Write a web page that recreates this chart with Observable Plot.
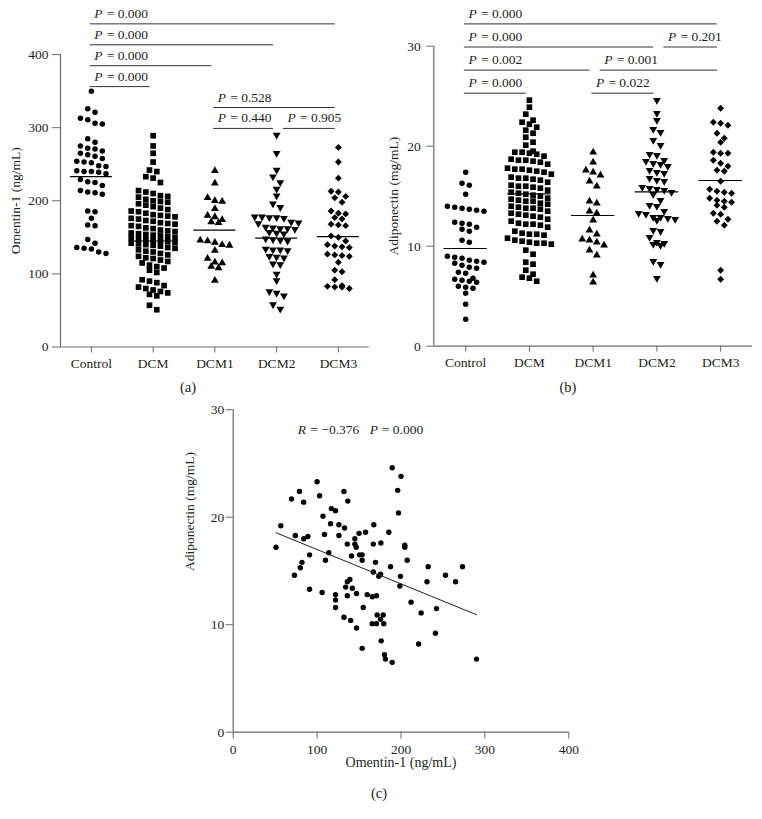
<!DOCTYPE html>
<html><head><meta charset="utf-8">
<script src="https://cdn.jsdelivr.net/npm/d3@7"></script>
<script src="https://cdn.jsdelivr.net/npm/@observablehq/plot@0.6"></script>
<style>
body{margin:0;background:#fff;}
#wrap{position:relative;width:762px;height:819px;font-family:"Liberation Serif","Times New Roman",serif;color:#231f20;background:#fff;}
.panel{position:absolute;}
.cap{position:absolute;font-size:14.5px;text-align:center;width:40px;line-height:18px;}
</style></head><body><div id="wrap"></div>
<script>
// ---------- data ----------
const groups = ["Control", "DCM", "DCM1", "DCM2", "DCM3"];

// Panel (a): Omentin-1 (ng/mL)
const omentinControl = [350, 326, 321, 313, 311, 306, 305, 285, 280, 275, 272, 271, 268, 265, 263, 261, 258, 254, 253, 252, 248, 247, 241, 240, 240, 239, 237, 229, 226, 225, 221, 214, 212, 211, 209, 186, 185, 176, 167, 166, 147, 142, 136, 135, 134, 130, 128];
const omentinDCM = [289, 275, 265, 253, 242, 240, 233, 231, 225, 214, 212, 210, 207, 206, 205, 202, 200, 199, 198, 196, 194, 192, 190, 188, 186, 185, 183, 181, 180, 179, 178, 176, 175, 173, 172, 170, 169, 168, 166, 165, 163, 162, 160, 159, 158, 156, 155, 154, 153, 152, 151, 150, 149, 148, 147, 146, 145, 144, 143, 142, 141, 140, 139, 138, 136, 135, 133, 131, 130, 128, 126, 124, 122, 121, 119, 117, 115, 112, 110, 108, 105, 102, 92, 90, 88, 84, 82, 80, 78, 76, 74, 72, 70, 57, 51];
const omentinDCM1 = [241, 224, 204, 200, 199, 189, 180, 178, 174, 171, 170, 146, 145, 143, 140, 139, 132, 121, 116, 115, 110, 108, 91];
const omentinDCM2 = [290, 265, 242, 233, 225, 216, 207, 196, 191, 178, 178, 177, 177, 176, 171, 170, 169, 164, 163, 162, 162, 161, 157, 156, 155, 148, 147, 146, 145, 134, 133, 133, 132, 124, 123, 122, 114, 113, 100, 91, 76, 74, 70, 58, 52];
const omentinDCM3 = [273, 253, 231, 213, 212, 206, 204, 198, 186, 183, 182, 177, 175, 168, 167, 166, 152, 150, 145, 140, 138, 137, 136, 127, 126, 125, 124, 116, 105, 103, 92, 84, 83, 82, 82, 80];
const omentinMeans = [233, 145, 160, 149, 151];
const omentinTicks = [0, 100, 200, 300, 400];
const omentinTests = [
  {from: 0, to: 4, level: 5, p: "0.000"},
  {from: 0, to: 3, level: 4, p: "0.000"},
  {from: 0, to: 2, level: 3, p: "0.000"},
  {from: 0, to: 1, level: 2, p: "0.000"},
  {from: 2, to: 4, level: 1, p: "0.528"},
  {from: 2, to: 3, level: 0, p: "0.440"},
  {from: 3, to: 4, level: 0, p: "0.905"}
];

// Panel (b): Adiponectin (mg/mL)
const adipoControl = [17.4, 16.3, 16.1, 15.2, 14.0, 13.9, 13.8, 13.7, 13.6, 13.5, 12.4, 12.3, 12.2, 11.9, 11.7, 11.5, 10.6, 10.4, 9.0, 8.9, 8.8, 8.6, 8.5, 8.4, 8.3, 8.1, 7.9, 7.8, 7.4, 7.3, 6.8, 6.7, 6.6, 6.5, 6.4, 6.0, 5.9, 5.8, 5.3, 4.2, 2.7];
const adipoDCM = [24.6, 23.9, 23.2, 22.6, 22.4, 22.2, 21.9, 21.6, 21.3, 20.9, 20.4, 20.1, 19.5, 19.4, 19.4, 19.3, 19.2, 19.0, 18.7, 18.6, 18.6, 18.5, 18.4, 18.2, 17.8, 17.7, 17.7, 17.6, 17.5, 17.4, 17.2, 16.9, 16.8, 16.8, 16.7, 16.6, 16.4, 16.1, 16.0, 16.0, 15.9, 15.8, 15.6, 15.4, 15.3, 15.2, 15.1, 15.0, 14.8, 14.7, 14.6, 14.5, 14.5, 14.3, 14.2, 14.0, 13.9, 13.8, 13.8, 13.7, 13.5, 13.3, 13.2, 13.1, 13.0, 12.9, 12.7, 12.5, 12.3, 12.2, 12.2, 12.1, 11.9, 11.5, 11.3, 11.2, 11.2, 11.1, 10.8, 10.6, 10.5, 10.4, 10.3, 10.3, 10.2, 9.6, 9.2, 8.4, 8.2, 7.6, 7.2, 6.9, 6.8, 6.5];
const adipoDCM1 = [19.4, 18.4, 17.6, 17.4, 17.1, 16.5, 16.0, 14.5, 14.3, 13.5, 13.3, 12.6, 11.6, 11.2, 10.7, 10.6, 10.4, 10.1, 9.6, 9.1, 7.1, 6.4];
const adipoDCM2 = [24.6, 23.3, 22.6, 21.7, 21.4, 20.6, 20.1, 19.2, 19.1, 18.6, 18.5, 18.3, 18.2, 18.0, 17.6, 17.4, 17.3, 16.8, 16.6, 16.5, 15.9, 15.8, 15.7, 15.6, 15.4, 15.2, 14.6, 14.1, 14.0, 13.5, 13.3, 13.2, 12.9, 12.9, 12.8, 12.7, 12.6, 11.6, 11.5, 10.9, 10.4, 10.3, 10.2, 10.1, 8.5, 8.2, 6.8];
const adipoDCM3 = [23.8, 22.4, 22.3, 22.1, 21.3, 20.8, 20.4, 19.4, 19.3, 19.3, 18.6, 18.3, 18.0, 17.6, 17.5, 16.5, 15.7, 15.5, 15.4, 15.3, 14.8, 14.6, 14.5, 14.4, 14.1, 13.9, 13.3, 13.2, 12.7, 12.5, 12.1, 7.6, 6.7];
const adipoMeans = [9.77, 15.24, 13.07, 15.44, 16.57];
const adipoTicks = [0, 10, 20, 30];
const adipoTests = [
  {from: 0, to: 4, level: 3, p: "0.000"},
  {from: 0, to: 3, level: 2, p: "0.000"},
  {from: 3, to: 4, level: 2, p: "0.201"},
  {from: 0, to: 2, level: 1, p: "0.002"},
  {from: 2, to: 4, level: 1, p: "0.001"},
  {from: 0, to: 1, level: 0, p: "0.000"},
  {from: 2, to: 3, level: 0, p: "0.022"}
];

// Panel (c): correlation (DCM patients)
const scatterOmentin = [100, 79, 69.5, 84, 103, 132, 136.6, 117, 122, 107, 56.7, 116, 126, 132.7, 74, 84, 89, 108.8, 126, 51, 136, 145, 150, 145, 146.6, 91, 114, 110, 141, 150.5, 82, 80, 73, 139, 136, 134, 142, 136, 147, 91, 106, 122, 122, 122, 132, 140, 147,
  189.5, 200, 196, 197, 167.6, 157.7, 185.5, 167, 176, 204.5, 204.5, 153.7, 153.7, 207.4, 169.6, 187.5, 232.4, 273.3, 167, 175.6, 173.5, 199.4, 253, 231, 265, 198.6, 159.7, 165.7, 170.8, 212, 155, 224, 242.3, 171.6, 178.8, 175.6, 179.5, 165.7, 170.8, 153.7, 176.4, 241, 221, 180.3, 181.5, 189.5, 290];
const scatterAdipo = [23.3, 22.4, 21.7, 21.4, 22.0, 22.4, 21.5, 20.8, 20.6, 20.1, 19.2, 19.4, 19.3, 19.0, 18.3, 18.0, 18.2, 18.4, 18.3, 17.2, 17.5, 18.0, 18.5, 17.5, 17.2, 16.5, 16.7, 16.0, 16.4, 16.5, 15.8, 15.3, 14.6, 14.2, 14.0, 13.5, 13.4, 12.7, 12.9, 13.3, 13.0, 12.8, 12.3, 11.6, 10.7, 10.4, 9.7,
  24.6, 23.8, 22.5, 20.4, 19.3, 18.6, 18.6, 17.5, 17.6, 17.4, 17.2, 16.5, 16.0, 16.0, 15.8, 15.4, 15.4, 15.4, 14.9, 14.7, 14.5, 14.5, 14.6, 14.0, 14.0, 13.6, 12.8, 12.6, 12.7, 12.1, 11.6, 11.1, 11.5, 10.9, 10.9, 10.5, 10.1, 10.1, 10.1, 7.8, 8.5, 9.2, 8.2, 7.2, 6.8, 6.5, 6.8];
const fitIntercept = 20.18;
const fitSlope = -0.0319;
const corrR = "−0.376";
const corrP = "0.000";
const scatterXTicks = [0, 100, 200, 300, 400];
const scatterYTicks = [0, 10, 20, 30];

// ---------- drawing ----------
const FONT = '"Liberation Serif", "Times New Roman", serif';
const AXIS = "#6b6b6b", INK = "#231f20";
const FS = 13.5;

const triangleDown = {
  draw(ctx, size) {
    const y = Math.sqrt(size / (Math.sqrt(3) * 3));
    ctx.moveTo(0, 2 * y);
    ctx.lineTo(-Math.sqrt(3) * y, -y);
    ctx.lineTo(Math.sqrt(3) * y, -y);
    ctx.closePath();
  }
};
const symbols = ["circle", "square", "triangle", triangleDown, "diamond2"];
const radii = [2.75, 3.2, 2.9, 2.9, 3.1];

function swarm(values, gi, tol, spacing, maxRow) {
  const s = values.slice().sort((a, b) => b - a);
  const rows = [];
  for (const v of s) {
    const r = rows[rows.length - 1];
    if (r && r[0] - v < tol && r.length < maxRow) r.push(v); else rows.push([v]);
  }
  const out = [];
  for (const r of rows) {
    const n = r.length;
    r.forEach((v, i) => out.push({gi, x: gi + (i - (n - 1) / 2) * spacing, v}));
  }
  return out;
}

function columnPanel(o) {
  const unitPx = (o.height - o.mT - o.mB) / o.yMax;
  const stepPx = (o.width - o.mL - o.mR) / 5;
  const tol = 6.3 / unitPx;
  const spacing = 7.3 / stepPx;
  const pts = o.series.map((vals, gi) => swarm(vals, gi, tol, spacing, 7));
  const meanData = o.means.map((m, gi) => ({gi, m}));
  const br = o.tests.map(b => {
    const after = o.tests.some(c => c !== b && c.level === b.level && c.to === b.from);
    return {...b, x1: b.from + (after ? 0.11 : -0.02), x2: b.to - 0.05, y: o.base + b.level * o.step};
  });
  const topTick = o.yTicks[o.yTicks.length - 1];
  return Plot.plot({
    width: o.width, height: o.height,
    marginLeft: o.mL, marginRight: o.mR, marginTop: o.mT, marginBottom: o.mB,
    x: {domain: [-0.5, 4.5]},
    y: {domain: [0, o.yMax]},
    style: {fontFamily: FONT, fontSize: FS + "px", color: INK, background: "transparent", overflow: "visible"},
    marks: [
      Plot.ruleY([0], {stroke: AXIS, strokeWidth: 1.2}),
      Plot.ruleX([-0.5], {y1: 0, y2: topTick, stroke: AXIS, strokeWidth: 1.2}),
      Plot.axisY({ticks: o.yTicks, tickSize: o.tickSizeY, tickPadding: o.tickPadY, stroke: AXIS, fill: INK, label: null, fontSize: FS}),
      Plot.axisX({ticks: [0, 1, 2, 3, 4], tickFormat: i => groups[i], tickSize: 6, tickPadding: 5, stroke: AXIS, fill: INK, label: null, fontSize: FS}),
      ...pts.map((p, gi) => Plot.dot(p, {x: "x", y: "v", symbol: symbols[gi], r: radii[gi], fill: "#000", stroke: "none"})),
      Plot.ruleY(meanData, {x1: d => d.gi - 0.34, x2: d => d.gi + 0.34, y: "m", stroke: "#000", strokeWidth: 1.2}),
      Plot.ruleY(br, {x1: "x1", x2: "x2", y: "y", stroke: "#333", strokeWidth: 1}),
      Plot.text(br, {x: "x1", y: "y", text: () => "P", fontStyle: "italic", textAnchor: "start", lineAnchor: "bottom", dx: 4, dy: -6, fill: INK, fontSize: FS}),
      Plot.text(br, {x: "x1", y: "y", text: d => "= " + d.p, textAnchor: "start", lineAnchor: "bottom", dx: 16.5, dy: -6, fill: INK, fontSize: FS}),
      Plot.text([o.yLabel], {x: -0.5, y: topTick / 2, rotate: -90, dx: o.yLabelDx, fill: INK, fontSize: FS})
    ]
  });
}

const wrap = document.getElementById("wrap");
function place(el, left, top) {
  const d = document.createElement("div");
  d.className = "panel";
  d.style.left = left + "px";
  d.style.top = top + "px";
  d.appendChild(el);
  wrap.appendChild(d);
}
function caption(text, cx, cy) {
  const d = document.createElement("div");
  d.className = "cap";
  d.textContent = text;
  d.style.left = (cx - 20) + "px";
  d.style.top = (cy - 9) + "px";
  wrap.appendChild(d);
}

place(columnPanel({
  series: [omentinControl, omentinDCM, omentinDCM1, omentinDCM2, omentinDCM3],
  means: omentinMeans, tests: omentinTests, yTicks: omentinTicks,
  width: 380, height: 375, mL: 60, mR: 11.25, mT: 4, mB: 28.5, yMax: 468.5,
  base: 299, step: 28.6, tickSizeY: 8, tickPadY: 4,
  yLabel: "Omentin-1 (ng/mL)", yLabelDx: -45
}), 0, 0);

place(columnPanel({
  series: [adipoControl, adipoDCM, adipoDCM1, adipoDCM2, adipoDCM3],
  means: adipoMeans, tests: adipoTests, yTicks: adipoTicks,
  width: 382, height: 375, mL: 53.3, mR: 10, mT: 4, mB: 29.3, yMax: 34.17,
  base: 25.3, step: 2.31, tickSizeY: 7, tickPadY: 6,
  yLabel: "Adiponectin (mg/mL)", yLabelDx: -40
}), 380, 0);

// panel (c)
const scatter = scatterOmentin.map((x, i) => ({x, y: scatterAdipo[i]}));
const xMin = d3.min(scatterOmentin), xMax = d3.max(scatterOmentin);
const fit = [xMin, xMax].map(x => ({x, y: fitIntercept + fitSlope * x}));
const annot = [{x: 77, y: 27.7}];
const scatterPlot = Plot.plot({
  width: 420, height: 419,
  marginLeft: 52.7, marginRight: 31.7, marginTop: 9.2, marginBottom: 87.3,
  x: {domain: [0, 400]},
  y: {domain: [0, 30]},
  style: {fontFamily: FONT, fontSize: FS + "px", color: INK, background: "transparent", overflow: "visible"},
  marks: [
    Plot.ruleY([0], {stroke: AXIS, strokeWidth: 1.2}),
    Plot.ruleX([0], {stroke: AXIS, strokeWidth: 1.2}),
    Plot.axisX({ticks: scatterXTicks, tickSize: 7, tickPadding: 5, stroke: AXIS, fill: INK, label: null, fontSize: FS}),
    Plot.axisY({ticks: scatterYTicks, tickSize: 7, tickPadding: 2, stroke: AXIS, fill: INK, label: null, fontSize: FS}),
    Plot.dot(scatter, {x: "x", y: "y", r: 2.7, fill: "#000", stroke: "none"}),
    Plot.line(fit, {x: "x", y: "y", stroke: INK, strokeWidth: 1}),
    Plot.text(annot, {x: "x", y: "y", text: () => "R", fontStyle: "italic", textAnchor: "start", lineAnchor: "bottom", fill: INK, fontSize: FS}),
    Plot.text(annot, {x: "x", y: "y", text: () => "= " + corrR, textAnchor: "start", lineAnchor: "bottom", dx: 12.5, fill: INK, fontSize: FS}),
    Plot.text(annot, {x: "x", y: "y", text: () => "P", fontStyle: "italic", textAnchor: "start", lineAnchor: "bottom", dx: 72, fill: INK, fontSize: FS}),
    Plot.text(annot, {x: "x", y: "y", text: () => "= " + corrP, textAnchor: "start", lineAnchor: "bottom", dx: 84, fill: INK, fontSize: FS}),
    Plot.text(["Omentin-1 (ng/mL)"], {x: 200, frameAnchor: "bottom", dy: 35, fill: INK, fontSize: 14}),
    Plot.text(["Adiponectin (mg/mL)"], {y: 15, frameAnchor: "left", rotate: -90, dx: -43.7, fill: INK, fontSize: FS})
  ]
});
place(scatterPlot, 180, 400);

caption("(a)", 188, 387);
caption("(b)", 568, 387);
caption("(c)", 379, 793);
</script>
</body></html>
